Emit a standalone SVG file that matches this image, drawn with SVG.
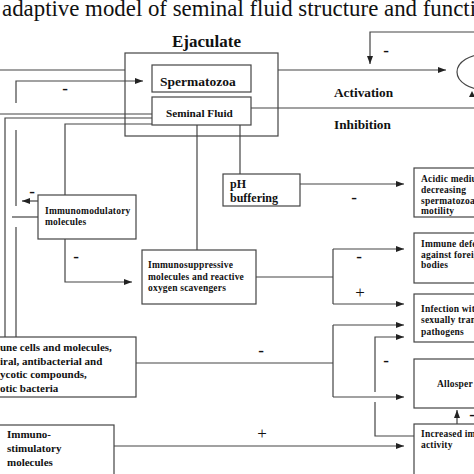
<svg xmlns="http://www.w3.org/2000/svg" width="474" height="474" viewBox="0 0 474 474" font-family="'Liberation Serif','Times New Roman',serif">
<defs>
<marker id="ah" markerWidth="8" markerHeight="6" refX="8" refY="3" orient="auto" markerUnits="userSpaceOnUse">
<path d="M0,0 L8,3 L0,6 Z" fill="#222"/>
</marker>
</defs>
<style>
.b{fill:#fff;stroke:#444;stroke-width:1.2}
.c{fill:none;stroke:#444;stroke-width:1.2}
.a{marker-end:url(#ah)}
text{font-family:"Liberation Serif","Times New Roman",serif;fill:#111}
.t{font-weight:bold}
.s{font-weight:bold;font-size:9.5px;letter-spacing:0.2px}
.m{font-weight:bold;font-size:11px}
.sg{font-weight:bold;font-size:17px;text-anchor:middle}
.pl{font-size:17px;text-anchor:middle}
</style>
<rect width="474" height="474" fill="#fff"/>
<text x="2" y="16" font-size="23" textLength="474" lengthAdjust="spacingAndGlyphs">adaptive model of seminal fluid structure and functi</text>

<g id="ejaculate">
<rect class="b" x="125" y="53" width="153" height="83"/>
<text class="t" x="172" y="47" font-size="17">Ejaculate</text>
</g>
<g id="spermatozoa">
<rect class="b" x="152" y="65" width="99" height="27"/>
<text class="t" x="160" y="86" font-size="13.5">Spermatozoa</text>
</g>
<g id="seminal-fluid">
<rect class="b" x="152" y="97" width="99" height="28"/>
<text class="t" x="166" y="117" font-size="11.2">Seminal Fluid</text>
</g>
<g id="target">
<ellipse class="c" cx="486" cy="72" rx="29" ry="18"/>
<path d="M472,91 L475,97 L469,97 Z" fill="#222"/>
</g>
<g id="labels">
<text class="t" x="334" y="97" font-size="13.3">Activation</text>
<text class="t" x="334" y="129" font-size="13.3">Inhibition</text>
</g>
<g id="immunomodulatory">
<rect class="b" x="38" y="195" width="98" height="44"/>
<text class="s" x="45" y="214">Immunomodulatory</text>
<text class="s" x="45" y="225">molecules</text>
</g>
<g id="ph">
<rect class="b" x="223" y="174" width="77" height="32"/>
<text class="t" x="230" y="188" font-size="12">pH</text>
<text class="t" x="230" y="202" font-size="12">buffering</text>
</g>
<g id="immunosuppressive">
<rect class="b" x="142" y="250" width="114" height="54"/>
<text class="s" x="148" y="268">Immunosuppressive</text>
<text class="s" x="148" y="280">molecules and reactive</text>
<text class="s" x="148" y="291">oxygen scavengers</text>
</g>
<g id="immune-cells">
<rect class="b" x="-10" y="337" width="146" height="60"/>
<text class="m" x="0" y="351">une cells and molecules,</text>
<text class="m" x="0" y="365">iral, antibacterial and</text>
<text class="m" x="0" y="378">ycotic compounds,</text>
<text class="m" x="0" y="392">otic bacteria</text>
</g>
<g id="immunostimulatory">
<rect class="b" x="-10" y="425" width="124" height="60"/>
<text class="m" x="7" y="438">Immuno-</text>
<text class="m" x="7" y="452">stimulatory</text>
<text class="m" x="7" y="466">molecules</text>
</g>
<g id="acidic">
<rect class="b" x="414" y="168" width="70" height="49"/>
<text class="s" x="421" y="182">Acidic mediu</text>
<text class="s" x="421" y="193">decreasing</text>
<text class="s" x="421" y="204">spermatozoa</text>
<text class="s" x="421" y="214">motility</text>
</g>
<g id="defence">
<rect class="b" x="414" y="233" width="70" height="50"/>
<text class="s" x="421" y="247">Immune defe</text>
<text class="s" x="421" y="258">against foreig</text>
<text class="s" x="421" y="268">bodies</text>
</g>
<g id="infection">
<rect class="b" x="414" y="294" width="70" height="48"/>
<text class="s" x="421" y="312">Infection wit</text>
<text class="s" x="421" y="323">sexually trans</text>
<text class="s" x="421" y="335">pathogens</text>
</g>
<g id="allosperm">
<rect class="b" x="414" y="359" width="70" height="49"/>
<text class="s" x="437" y="387">Allosper</text>
</g>
<g id="increased">
<rect class="b" x="414" y="424" width="70" height="60"/>
<text class="s" x="421" y="437">Increased im</text>
<text class="s" x="421" y="448">activity</text>
</g>

<g id="connectors">
<path class="c" d="M0,70 H125"/>
<path class="c a" d="M16,103 V81 H143"/>
<path class="c" d="M0,114 H152"/>
<path class="c" d="M152,118 H5 V337"/>
<path class="c" d="M16,130 V206 M16,227 V337"/>
<path class="c" d="M12,217 H38"/>
<path class="c a" d="M38,201 H22"/>
<path class="c" d="M152,124 H65 V195"/>
<path class="c" d="M197,125 V250"/>
<path class="c" d="M240,125 V174"/>
<path class="c a" d="M65,239 V282 H132"/>
<path class="c a" d="M300,184 H404"/>
<path class="c" d="M256,277 H333 M333,249 V304"/>
<path class="c a" d="M333,249 H404"/>
<path class="c a" d="M333,304 H404"/>
<path class="c" d="M136,363 H333 M333,325 V397"/>
<path class="c a" d="M333,325 H404"/>
<path class="c a" d="M333,397 H404"/>
<path class="c a" d="M114,446 H404"/>
<path class="c" d="M414,436 H375 V402"/>
<path class="c a" d="M375,392 V337 H404"/>
<path class="c a" d="M457,424 V410"/>
<path class="c a" d="M278,70 H446"/>
<path class="c a" d="M474,32 H370 V64"/>
<path class="c" d="M251,108 H474"/>
</g>
<g id="signs">
<text class="sg" x="65" y="94">-</text>
<text class="sg" x="386" y="56">-</text>
<text class="sg" x="32" y="197">-</text>
<text class="sg" x="76" y="262">-</text>
<text class="sg" x="354" y="203">-</text>
<text class="sg" x="359" y="262">-</text>
<text class="pl" x="360" y="298">+</text>
<text class="sg" x="261" y="356">-</text>
<text class="sg" x="386" y="366">-</text>
<text class="pl" x="262" y="439">+</text>
<text class="sg" x="472" y="420">-</text>
</g>
</svg>
